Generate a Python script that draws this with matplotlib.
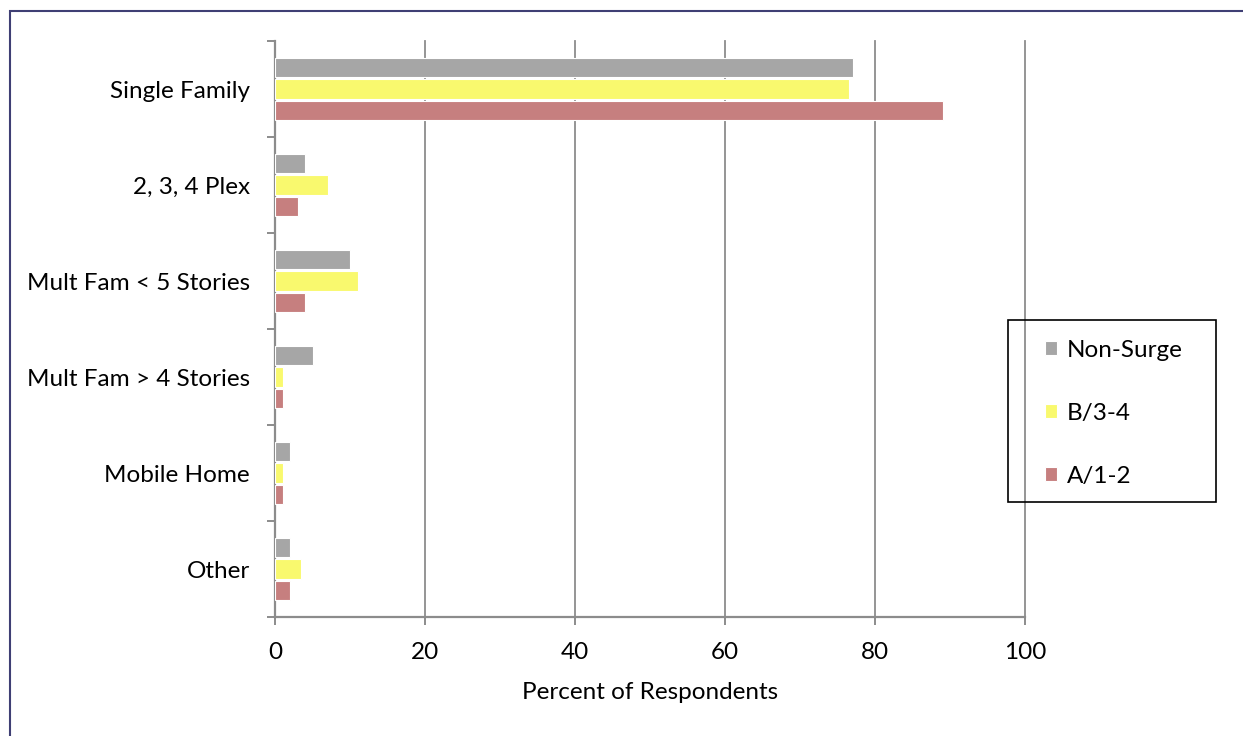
import matplotlib
matplotlib.use('Agg')
from matplotlib import pyplot as plt
from matplotlib.patches import Rectangle
import numpy as np

categories = ['Single Family', '2, 3, 4 Plex', 'Mult Fam < 5 Stories',
              'Mult Fam > 4 Stories', 'Mobile Home', 'Other']
non_surge = [77, 4, 10, 5, 2, 2]
b_3_4 = [76.5, 7, 11, 1, 1, 3.4]
a_1_2 = [89, 3, 4, 1, 1, 2]
series_names = ['Non-Surge', 'B/3-4', 'A/1-2']
colors = ['#A6A6A6', '#F9F96E', '#C67F7F']
x_ticks = [0, 20, 40, 60, 80, 100]

plt.rcParams['font.family'] = ['Lato', 'DejaVu Sans']
FS = 17.5
W, H = 1243, 736
fig = plt.figure(figsize=(W / 100, H / 100), dpi=100)
ax = fig.add_axes([275 / W, 1 - 617 / H, 750 / W, 576 / H])

y = np.arange(len(categories))
offsets = [-0.22, 0, 0.22]
for vals, off, c, name in zip([non_surge, b_3_4, a_1_2], offsets, colors, series_names):
  ax.barh(y + off, vals, height=0.2, color=c, edgecolor='white', linewidth=0.8,
          label=name, zorder=3)

ax.set_xlim(0, 100)
ax.set_ylim(len(categories) - 0.5, -0.5)
ax.set_xticks(x_ticks)
ax.tick_params(axis='x', length=6, width=1.4, color='#8C8C8C', pad=12, labelsize=FS)
ax.grid(axis='x', color='#8C8C8C', linewidth=1.3, zorder=0)
for gl in ax.get_xgridlines():
  gl.set_clip_on(False)

# category boundary ticks, labels at centers
ax.set_yticks(np.arange(-0.5, len(categories), 1.0))
ax.set_yticklabels([])
ax.set_yticks(y, minor=True)
ax.set_yticklabels(categories, minor=True)
ax.tick_params(axis='y', which='major', length=6, width=1.4, color='#8C8C8C')
ax.tick_params(axis='y', which='minor', length=0, pad=18, labelsize=FS)

for side in ['top', 'right']:
  ax.spines[side].set_visible(False)
for side in ['left', 'bottom']:
  ax.spines[side].set_color('#8C8C8C')
  ax.spines[side].set_linewidth(1.6)

ax.set_xlabel('Percent of Respondents', fontsize=FS, labelpad=14)

# legend box
fig.patches.append(Rectangle((1008 / W, 1 - 502 / H), 208 / W, 182 / H,
                             transform=fig.transFigure, fill=False,
                             edgecolor='black', linewidth=1.2, zorder=5))
fig.legend(loc='upper left', bbox_to_anchor=(1045 / W, 1 - 340 / H),
           bbox_transform=fig.transFigure, frameon=False, fontsize=FS,
           handlelength=0.5, handleheight=0.5, handletextpad=0.4,
           labelspacing=1.72, borderpad=0, borderaxespad=0)

# outer border
fig.patches.append(Rectangle((10 / W, -0.05), 1.1, 1 - 11.5 / H + 0.05,
                             transform=fig.transFigure, fill=False,
                             edgecolor='#3F3F74', linewidth=1.5))

fig.savefig('out.png', dpi=100)
